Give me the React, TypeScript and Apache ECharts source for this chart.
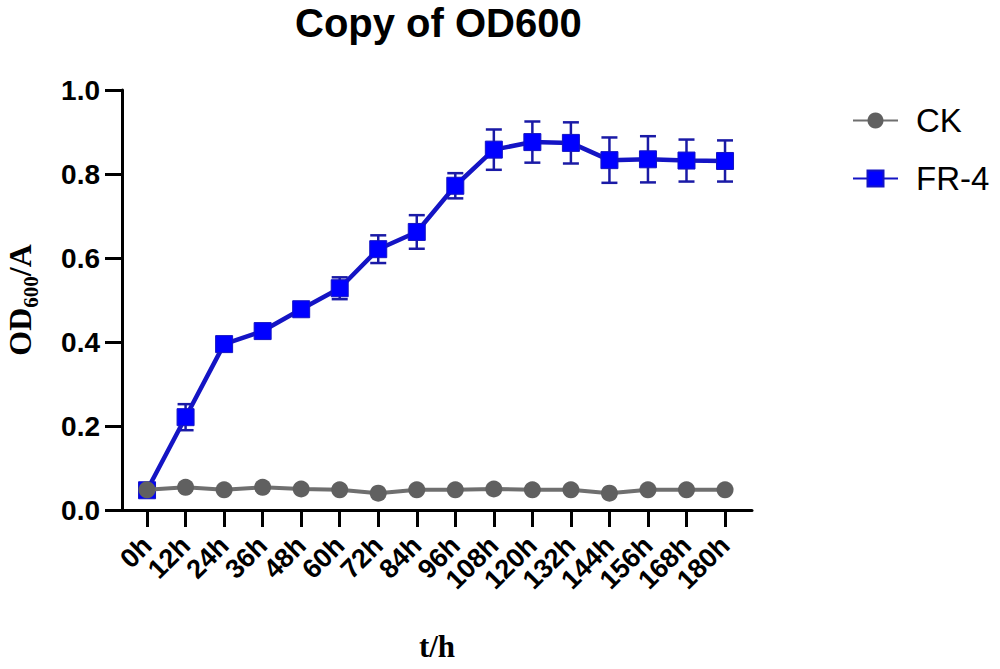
import { useEffect, useRef } from "react";
import * as echarts from "echarts";

const timeLabels = ["0h", "12h", "24h", "36h", "48h", "60h", "72h", "84h", "96h", "108h", "120h", "132h", "144h", "156h", "168h", "180h"];
const ckValues = [0.048, 0.054, 0.048, 0.054, 0.05, 0.048, 0.04, 0.048, 0.048, 0.05, 0.048, 0.048, 0.04, 0.048, 0.048, 0.048];
const fr4Values = [0.047, 0.221, 0.395, 0.426, 0.478, 0.528, 0.621, 0.662, 0.772, 0.858, 0.876, 0.874, 0.833, 0.835, 0.832, 0.831];
const fr4Errors = [0.005, 0.031, 0.008, 0.008, 0.01, 0.026, 0.033, 0.04, 0.03, 0.048, 0.049, 0.049, 0.054, 0.055, 0.05, 0.049];
const yTickValues = [0, 0.2, 0.4, 0.6, 0.8, 1.0];

const BLUE_LINE = "#1414c4";
const BLUE_MARK = "#0000ff";
const BLUE_ERR = "#1a1aa6";
const GRAY_LINE = "#6f6f6f";
const GRAY_MARK = "#606060";

export default function App() {
  const ref = useRef<HTMLDivElement>(null);
  useEffect(() => {
    if (!ref.current) return;
    const chart = echarts.init(ref.current, undefined, { renderer: "svg" });
    const idx = timeLabels.map((_, i) => i);
    const fr4Data = fr4Values.map((v, i) => [i, v]);
    const ckData = ckValues.map((v, i) => [i, v]);
    const errData = fr4Values.map((v, i) => [i, v - fr4Errors[i], v + fr4Errors[i]]);
    const sans = "Liberation Sans, Arial, sans-serif";
    const serif = "Liberation Serif, Times New Roman, serif";
    chart.setOption({
      animation: false,
      backgroundColor: "#ffffff",
      title: {
        text: "Copy of OD600",
        left: 290,
        top: -2,
        textStyle: { fontFamily: sans, fontWeight: "bold", fontSize: 40, color: "#000" },
      },
      legend: {
        orient: "vertical",
        left: 847,
        top: 99,
        itemWidth: 45,
        itemHeight: 20,
        itemGap: 25,
        data: ["CK", "FR-4"],
        textStyle: { fontFamily: sans, fontSize: 33, color: "#000", padding: [0, 0, 0, 13] },
      },
      grid: { left: 122, right: 248, top: 90, bottom: 159, containLabel: false, outerBoundsMode: "none" },
      xAxis: {
        type: "value",
        min: -0.65,
        max: 15.7,
        splitLine: { show: false },
        axisLine: { show: true, onZero: false, lineStyle: { color: "#000", width: 3 } },
        axisTick: { show: true, customValues: idx, length: 17, lineStyle: { color: "#000", width: 3 } },
        axisLabel: {
          customValues: idx,
          formatter: (v: number) => timeLabels[Math.round(v)] ?? "",
          rotate: 45,
          margin: 31,
          fontFamily: sans,
          fontWeight: "bold",
          fontSize: 27,
          color: "#000",
        },
        name: "t/h",
        nameLocation: "middle",
        nameGap: 121,
        nameTextStyle: { fontFamily: serif, fontWeight: "bold", fontSize: 31, color: "#000" },
      },
      yAxis: {
        type: "value",
        min: 0,
        max: 1,
        interval: 0.2,
        splitLine: { show: false },
        axisLine: { show: true, onZero: false, lineStyle: { color: "#000", width: 3 } },
        axisTick: { show: true, length: 17, lineStyle: { color: "#000", width: 3 } },
        axisLabel: {
          formatter: (v: number) => (yTickValues.includes(Math.round(v * 10) / 10) ? v.toFixed(1) : ""),
          margin: 22,
          fontFamily: sans,
          fontWeight: "bold",
          fontSize: 28,
          color: "#000",
        },
        name: "{m|OD}{s|600}{m|/A}",
        nameLocation: "middle",
        nameRotate: 90,
        nameGap: 81,
        nameTextStyle: {
          rich: {
            m: { fontFamily: serif, fontWeight: "bold", fontSize: 32, color: "#000", lineHeight: 42, verticalAlign: "middle" },
            s: { fontFamily: serif, fontWeight: "bold", fontSize: 21, color: "#000", lineHeight: 42, verticalAlign: "bottom" },
          },
        },
      },
      series: [
        {
          name: "FR-4 err",
          type: "custom",
          z: 2,
          data: errData,
          encode: { x: 0, y: [1, 2] },
          renderItem: (_p: any, api: any) => {
            const x = api.value(0);
            const top = api.coord([x, api.value(2)]);
            const bot = api.coord([x, api.value(1)]);
            const cap = 8;
            const style = { stroke: BLUE_ERR, lineWidth: 2.5, fill: "none" };
            return {
              type: "group",
              children: [
                { type: "line", shape: { x1: top[0], y1: top[1], x2: bot[0], y2: bot[1] }, style },
                { type: "line", shape: { x1: top[0] - cap, y1: top[1], x2: top[0] + cap, y2: top[1] }, style },
                { type: "line", shape: { x1: bot[0] - cap, y1: bot[1], x2: bot[0] + cap, y2: bot[1] }, style },
              ],
            };
          },
        },
        {
          name: "FR-4",
          type: "line",
          z: 3,
          data: fr4Data,
          symbol: "rect",
          symbolSize: 17,
          lineStyle: { color: BLUE_LINE, width: 4.5 },
          itemStyle: { color: BLUE_MARK, borderColor: BLUE_LINE, borderWidth: 1 },
        },
        {
          name: "CK",
          type: "line",
          z: 4,
          data: ckData,
          symbol: "circle",
          symbolSize: 17,
          lineStyle: { color: GRAY_LINE, width: 4 },
          itemStyle: { color: GRAY_MARK },
        },
      ],
    });
    return () => chart.dispose();
  }, []);
  return <div ref={ref} style={{ position: "fixed", left: 0, top: 0, width: 1000, height: 669 }} />;
}
